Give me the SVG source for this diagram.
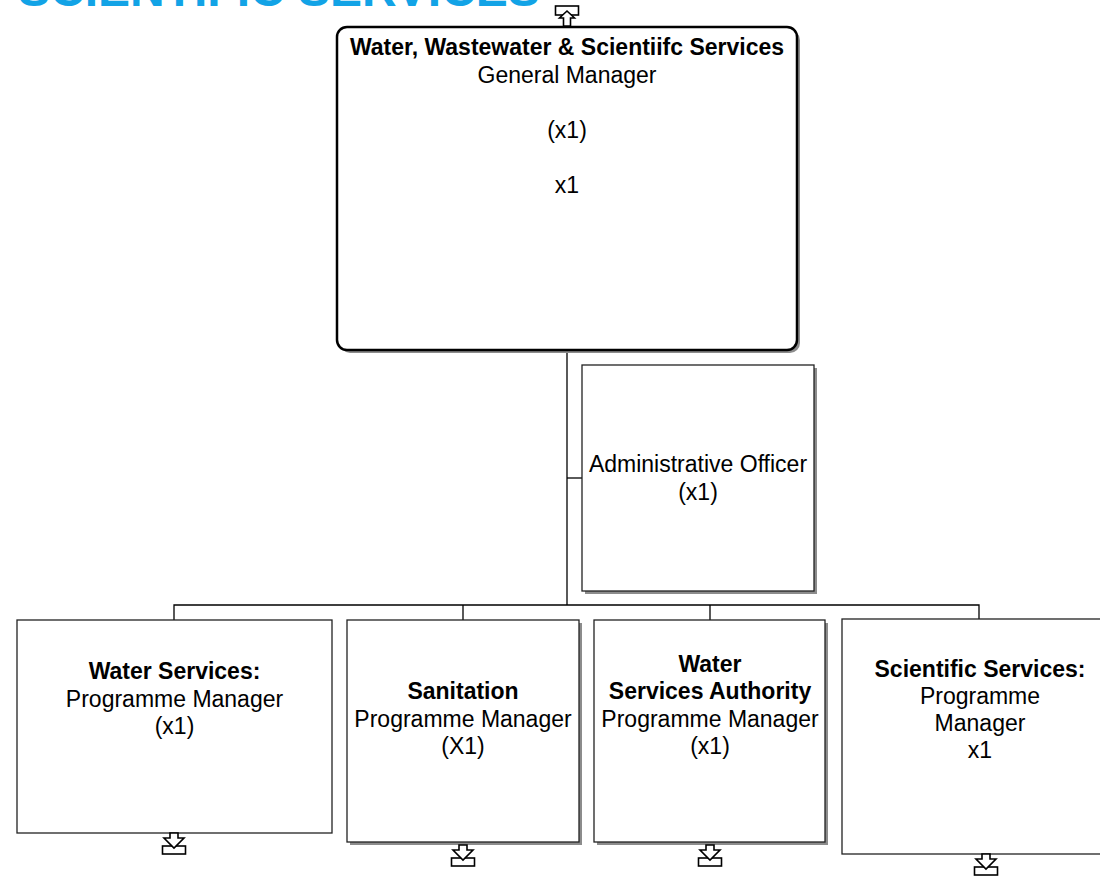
<svg xmlns="http://www.w3.org/2000/svg" width="1100" height="876" viewBox="0 0 1100 876">
<style>
.t{font-family:"Liberation Sans",Arial,sans-serif;font-size:23px;fill:#000;text-anchor:middle}
.b{font-weight:bold}
.box{fill:#fff;stroke:#222;stroke-width:1.3}
.sh{fill:#8c8c8c}
.ln{stroke:#000;stroke-width:1.3;fill:none}
.ind{fill:#fff;stroke:#000;stroke-width:1.6}
.title{font-family:"Liberation Sans",Arial,sans-serif;font-size:48px;font-weight:bold;fill:#12a3e6}
</style>
<defs>
<g id="down">
<rect class="ind" x="-11.5" y="13" width="23" height="8"/>
<path class="ind" d="M-4,0 L4,0 L4,5 L10,5 L0,15 L-10,5 L-4,5 Z"/>
</g>
<g id="up">
<rect class="ind" x="-11.5" y="-20" width="23" height="9"/>
<path class="ind" d="M-3.5,0 L3.5,0 L3.5,-8 L7.5,-8 L0,-15 L-7.5,-8 L-3.5,-8 Z"/>
</g>
</defs>
<rect width="1100" height="876" fill="#fff"/>
<text class="title" x="18" y="6">SCIENTIFIC SERVICES</text>

<g id="connectors">
<path class="ln" d="M567,350 V605"/>
<path class="ln" d="M567,478 H582"/>
<path class="ln" d="M174,620 V605 H979 V620"/>
<path class="ln" d="M463,605 V620"/>
<path class="ln" d="M710,605 V620"/>
</g>

<g id="gm">
<rect class="sh" x="340" y="30" width="460" height="323" rx="10"/>
<rect x="337" y="27" width="460" height="323" rx="10" fill="#fff" stroke="#000" stroke-width="2.5"/>
<text class="t b" x="567" y="55">Water, Wastewater &amp; Scientiifc Services</text>
<text class="t" x="567" y="83">General Manager</text>
<text class="t" x="567" y="138">(x1)</text>
<text class="t" x="567" y="193">x1</text>
<use href="#up" x="567" y="26"/>
</g>

<g id="admin">
<rect class="sh" x="585" y="368" width="232" height="226"/>
<rect class="box" x="582" y="365" width="232" height="226"/>
<text class="t" x="698" y="472">Administrative Officer</text>
<text class="t" x="698" y="499.5">(x1)</text>
</g>

<g id="water">
<rect class="box" x="17" y="620" width="315" height="213"/>
<text class="t b" x="174.5" y="679">Water Services:</text>
<text class="t" x="174.5" y="706.5">Programme Manager</text>
<text class="t" x="174.5" y="734">(x1)</text>
<use href="#down" x="174" y="833"/>
</g>

<g id="sanitation">
<rect class="sh" x="350" y="623" width="232" height="222"/>
<rect class="box" x="347" y="620" width="232" height="222"/>
<text class="t b" x="463" y="699">Sanitation</text>
<text class="t" x="463" y="726.5">Programme Manager</text>
<text class="t" x="463" y="754">(X1)</text>
<use href="#down" x="463" y="845"/>
</g>

<g id="wsa">
<rect class="sh" x="597" y="623" width="231" height="222"/>
<rect class="box" x="594" y="620" width="231" height="222"/>
<text class="t b" x="710" y="672">Water</text>
<text class="t b" x="710" y="699">Services Authority</text>
<text class="t" x="710" y="726.5">Programme Manager</text>
<text class="t" x="710" y="754">(x1)</text>
<use href="#down" x="710" y="845"/>
</g>

<g id="scientific">
<rect class="box" x="842" y="619" width="300" height="235"/>
<text class="t b" x="980" y="677">Scientific Services:</text>
<text class="t" x="980" y="704">Programme</text>
<text class="t" x="980" y="731">Manager</text>
<text class="t" x="980" y="758">x1</text>
<use href="#down" x="986" y="854"/>
</g>
</svg>
